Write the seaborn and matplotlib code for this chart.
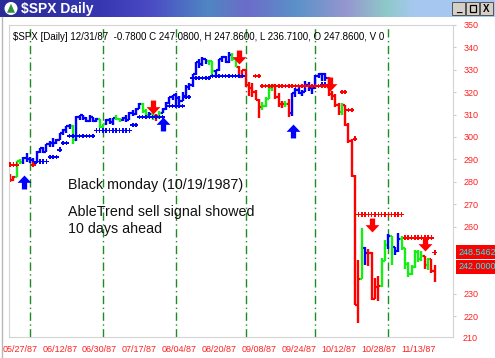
import numpy as np
import pandas as pd
import matplotlib
matplotlib.use('Agg')
import matplotlib.pyplot as plt
import matplotlib.patches as mpatches
from matplotlib.lines import Line2D
from matplotlib.path import Path
from matplotlib.colors import LinearSegmentedColormap
import seaborn as sns

# trading calendar of the chart
START, END = '1987-05-21', '1987-11-20'
HOLIDAYS = ['1987-05-25', '1987-07-03', '1987-09-07']

TICK_LABELS = ['05/27/87', '06/12/87', '06/30/87', '07/17/87', '08/04/87', '08/20/87',
               '09/08/87', '09/24/87', '10/12/87', '10/28/87', '11/13/87']
PRICE_TICKS = [220, 230, 260, 270, 280, 290, 300, 310, 320, 330, 340, 350]

# daily bars
OPENS = [283.0, 281.0, 282.2, 289.1, 288.7, 290.8, 290.1, 289.8, 288.5, 293.5,
         295.1, 293.5, 296.7, 297.3, 297.5, 298.8, 301.6, 303.1, 304.8, 304.8,
         298.5, 309.0, 309.6, 308.4, 307.0, 308.9, 307.2, 307.9, 304.5, 305.6,
         307.5, 306.8, 308.3, 308.0, 307.4, 308.4, 307.6, 310.7, 310.4, 312.7,
         314.6, 311.4, 309.8, 310.4, 309.3, 309.3, 310.7, 312.3, 315.1, 318.0,
         318.7, 317.6, 316.2, 318.5, 322.1, 323.0, 328.0, 333.3, 332.4, 334.7,
         333.9, 334.1, 329.3, 329.8, 334.8, 335.9, 333.3, 336.8, 334.6, 331.4,
         327.0, 329.8, 323.4, 321.7, 320.2, 316.7, 313.6, 313.9, 317.1, 321.9,
         323.1, 317.7, 314.9, 314.9, 314.9, 310.5, 319.5, 321.2, 319.7, 320.2,
         323.2, 321.7, 321.8, 327.3, 328.1, 328.1, 326.5, 319.2, 318.5, 314.2,
         311.1, 314.5, 305.2, 298.1, 282.7, 224.8, 236.8, 250.5, 248.3, 248.2,
         227.7, 233.2, 233.3, 244.8, 251.8, 255.8, 250.8, 249.0, 254.5, 250.4,
         243.2, 239.0, 241.9, 248.5, 245.6, 246.8, 243.0, 245.5, 240.0]
HIGHS = [283.5, 282.8, 289.2, 290.0, 291.0, 292.9, 291.2, 290.5, 293.6, 295.2,
         295.5, 297.0, 298.0, 299.5, 299.0, 302.0, 303.5, 304.9, 305.7, 305.2,
         309.5, 310.0, 310.0, 309.0, 309.6, 309.0, 308.5, 308.0, 305.8, 307.9,
         308.6, 308.7, 309.9, 308.5, 309.0, 310.0, 311.0, 312.0, 312.8, 315.0,
         315.0, 312.5, 311.0, 312.0, 310.3, 311.5, 313.0, 315.5, 318.0, 318.9,
         319.5, 318.5, 320.0, 323.0, 324.0, 328.0, 333.4, 334.6, 335.7, 335.0,
         334.5, 334.1, 330.0, 334.9, 336.0, 336.0, 337.9, 337.4, 334.7, 331.5,
         330.1, 330.0, 324.5, 324.0, 321.0, 317.0, 315.8, 318.0, 322.5, 323.2,
         323.1, 319.5, 316.0, 316.0, 317.0, 319.6, 321.8, 322.5, 321.0, 325.0,
         324.5, 322.5, 327.5, 328.6, 328.5, 328.6, 326.8, 320.5, 319.0, 315.0,
         315.2, 314.5, 306.3, 299.0, 283.1, 245.2, 259.5, 251.0, 250.0, 248.5,
         237.0, 238.0, 246.0, 254.1, 256.5, 256.0, 251.0, 257.3, 256.0, 250.5,
         244.0, 243.0, 249.7, 249.5, 249.0, 247.0, 246.0, 245.6, 243.0]
LOWS = [280.0, 280.2, 282.0, 287.8, 288.0, 289.0, 288.6, 287.6, 288.3, 292.8,
        293.0, 293.3, 295.7, 295.6, 297.0, 298.6, 301.0, 302.0, 303.5, 297.0,
        298.3, 307.5, 307.8, 306.5, 306.6, 306.8, 306.5, 304.0, 303.8, 305.4,
        306.0, 305.5, 307.5, 306.8, 307.0, 306.5, 307.4, 309.5, 310.0, 312.5,
        310.5, 308.6, 308.5, 307.6, 307.0, 308.0, 310.5, 312.0, 314.8, 316.5,
        314.5, 314.0, 316.0, 318.0, 321.0, 322.5, 327.8, 331.0, 331.5, 332.5,
        332.0, 327.0, 326.9, 329.5, 333.5, 333.0, 333.2, 334.0, 331.3, 327.0,
        326.5, 322.5, 318.5, 318.0, 316.5, 308.5, 312.0, 313.5, 317.0, 320.5,
        317.0, 313.5, 313.0, 313.5, 309.0, 309.5, 318.0, 319.0, 318.5, 320.0,
        320.5, 319.0, 321.5, 326.5, 325.0, 325.0, 318.5, 316.5, 313.5, 310.0,
        310.0, 304.8, 297.5, 282.0, 224.8, 217.0, 236.7, 243.0, 242.5, 227.4,
        227.5, 226.8, 233.0, 244.5, 250.0, 242.8, 247.5, 248.5, 249.5, 241.0,
        237.6, 238.5, 241.5, 244.0, 244.5, 241.0, 240.8, 239.4, 235.4]
CLOSES = [281.0, 282.2, 289.1, 288.7, 290.8, 290.1, 289.8, 288.5, 293.5, 295.1,
          293.5, 296.7, 297.3, 297.5, 298.8, 301.6, 303.1, 304.8, 304.8, 298.5,
          309.0, 309.6, 308.4, 307.0, 308.9, 307.2, 307.9, 304.5, 305.6, 307.5,
          306.8, 308.3, 308.0, 307.4, 308.4, 307.6, 310.7, 310.4, 312.7, 314.6,
          311.4, 309.8, 310.4, 309.3, 309.3, 310.7, 312.3, 315.1, 318.0, 318.7,
          317.6, 316.2, 318.5, 322.1, 323.0, 328.0, 333.3, 332.4, 334.7, 333.9,
          334.1, 329.3, 329.8, 334.8, 335.9, 333.3, 336.8, 334.6, 331.4, 327.0,
          329.8, 323.4, 321.7, 320.2, 316.7, 313.6, 313.9, 317.1, 321.9, 323.1,
          317.7, 314.9, 314.9, 314.9, 310.5, 319.5, 321.2, 319.7, 320.2, 323.2,
          321.7, 321.8, 327.3, 328.1, 328.1, 326.5, 319.2, 318.5, 314.2, 311.1,
          314.5, 305.2, 298.1, 282.7, 224.8, 236.8, 258.4, 248.3, 248.2, 227.7,
          233.2, 233.3, 244.8, 251.8, 255.8, 250.8, 249.0, 254.5, 250.4, 243.2,
          239.0, 241.9, 248.5, 245.6, 246.8, 243.0, 245.5, 240.0, 242.0]
# trend state of each bar: r = down, g = neutral, b = up
TREND = ('rrggbbbbbb' 'bbbbbbbbbg' 'bbbbbbbggb' 'bbggbbbbbb' 'ggbgrgbbbb'
         'bbbbbbbbbb' 'ggbbbbbggr' 'rrrrrrgggg' 'rrrgrbbbbb' 'bbbbbbrrrr'
         'grrrrrgbrr' 'rrggbgbbgg' 'gggggrgrr')

# stop levels: (first bar, last bar, level)
BLUE_STOPS = [(8, 11, 289.0), (12, 14, 291.0), (15, 15, 294.3), (16, 17, 297.4),
              (18, 25, 300.5), (26, 36, 303.0), (37, 38, 305.4), (39, 46, 309.0),
              (48, 52, 313.9), (53, 54, 317.9), (55, 60, 326.4), (61, 70, 327.3),
              (94, 95, 323.5)]
RED_STOPS = [(0, 2, 287.6), (7, 7, 287.6), (74, 75, 327.3), (76, 95, 322.8),
             (100, 101, 320.0), (102, 103, 312.0), (104, 104, 299.2),
             (105, 118, 265.3), (119, 127, 255.0), (128, 128, 248.5)]

# signal arrows (bar position, price at arrow centre)
UP_X = [4.2, 46.1, 85.2]
UP_Y = [280.0, 305.9, 302.6]
DOWN_X = [43.1, 69.0, 96.5, 109.0, 125.1]
DOWN_Y = [313.6, 335.8, 323.7, 260.5, 252.0]

LAST_STOP, LAST_CLOSE = 248.5462, 242.0000
HEADER = r'\$SPX [Daily] 12/31/87  -0.7800 C 247.0800, H 247.8600, L 236.7100, O 247.8600, V 0'

COL = {'r': '#ff0000', 'g': '#14ee14', 'b': '#0000ff'}

sns.set_style('white')
plt.rcParams['font.family'] = ['Liberation Sans', 'DejaVu Sans']

W, H = 495, 358
fig = plt.figure(figsize=(W / 100, H / 100), dpi=100)
fig.patch.set_facecolor('white')

# ---- window title bar
bar = fig.add_axes([0, 1 - 17 / H, 1, 17 / H])
cmap = LinearSegmentedColormap.from_list('tb', [
    (0.0, '#2a2a98'), (0.2, '#3636b0'), (0.3, '#4a4ac4'), (0.42, '#4f86c2'),
    (0.5, '#6c6cc8'), (0.6, '#5a92c8'), (0.7, '#9696d0'), (0.78, '#8ec8c8'),
    (0.84, '#a6c8f0'), (1.0, '#a8caf2')])
bar.imshow(np.linspace(0, 1, 256).reshape(1, -1), aspect='auto', cmap=cmap,
           extent=[0, 1, 0, 1])
bar.set_xlim(0, 1)
bar.set_ylim(0, 1)
bar.set_axis_off()
bar.add_patch(mpatches.Ellipse((11 / W, 0.5), 13 / W, 13 / 17, fc='white', ec='none'))
bar.add_patch(mpatches.Polygon([(7 / W, 0.25), (15 / W, 0.25), (11 / W, 0.78)],
                               fc='#2f8f3f', ec='none'))
bar.text(21 / W, 0.5, r'\$SPX Daily', color='white', fontweight='bold',
         fontsize=10, va='center', ha='left')
for k, glyph in enumerate(['_', '', 'X']):
    x0 = (452 + k * 14) / W
    bar.add_patch(mpatches.Rectangle((x0, 0.12), 13 / W, 0.76, fc='#d4d0c8',
                                     ec='#404040', lw=0.6))
    if glyph:
        bar.text(x0 + 6.5 / W, 0.45, glyph, fontsize=7, fontweight='bold',
                 ha='center', va='center', color='black')
    else:
        bar.add_patch(mpatches.Rectangle((x0 + 3.5 / W, 0.3), 6 / W, 0.42,
                                         fc='none', ec='black', lw=0.9))

fig.add_artist(Line2D([2 / W, 2 / W], [0, 1 - 17 / H], color='#b8b8b8', lw=1))

# ---- price axes
ax = fig.add_axes([9 / W, 1 - 337 / H, (453 - 9) / W, (337 - 25) / H])
dates = pd.bdate_range(START, END, freq='C', holidays=HOLIDAYS)
bars = pd.DataFrame({'date': dates, 'open': OPENS, 'high': HIGHS, 'low': LOWS,
                     'close': CLOSES, 'trend': list(TREND)})
bars['x'] = np.arange(len(bars))

# month start lines
month_start = bars.groupby(bars['date'].dt.month)['x'].min().values[1:]
for m in month_start:
    ax.axvline(m, color='#1e8c1e', lw=1.0, ls=(0, (6, 2.5, 1, 2.5)), zorder=1)

for t, grp in bars.groupby('trend'):
    c = COL[t]
    ax.vlines(grp['x'], grp['low'], grp['high'], color=c, lw=1.7, zorder=2)
    ax.hlines(grp['open'], grp['x'] - 0.5, grp['x'], color=c, lw=1.6, zorder=2)
    ax.hlines(grp['close'], grp['x'], grp['x'] + 0.5, color=c, lw=1.6, zorder=2)

rows = []
for kind, segs in (('blue', BLUE_STOPS), ('red', RED_STOPS)):
    for a, b, lvl in segs:
        for i in range(a, b + 1):
            rows.append({'x': i, 'y': lvl, 'kind': kind})
stops = pd.DataFrame(rows)
sns.scatterplot(data=stops, x='x', y='y', hue='kind', marker='P', s=11,
                linewidth=0, palette={'blue': '#0000ff', 'red': '#ff0000'},
                legend=False, ax=ax, zorder=3)

down_path = Path([(-0.38, 1.0), (0.38, 1.0), (0.38, 0.05), (1.0, 0.05), (0.0, -1.0),
                  (-1.0, 0.05), (-0.38, 0.05), (-0.38, 1.0)], closed=True)
up_path = Path([(x, -y) for x, y in down_path.vertices], closed=True)
ax.scatter(DOWN_X, DOWN_Y, marker=down_path, s=100, color='#ff0000', lw=0, zorder=4)
ax.scatter(UP_X, UP_Y, marker=up_path, s=100, color='#0000ff', lw=0, zorder=4)

ax.set_xlim(-0.3, 133.5)
ax.set_ylim(210.7, 350.0)

tick_x = dates.get_indexer(pd.to_datetime(TICK_LABELS, format='%m/%d/%y'))
ax.set_xticks(tick_x)
ax.set_xticklabels(TICK_LABELS)
ax.yaxis.tick_right()
ax.set_yticks(PRICE_TICKS)
ax.set_yticklabels([str(v) for v in PRICE_TICKS])
ax.tick_params(axis='x', length=3, pad=2.5, labelsize=6.5, colors='#cccccc',
               labelcolor='#ff2020')
ax.tick_params(axis='y', length=2.5, pad=5, labelsize=6.5, colors='#cccccc',
               labelcolor='#ff2020', left=False, right=True)
for lab in ax.get_yticklabels():
    lab.set_horizontalalignment('left')
ax.text(1.021, 210, '210', transform=ax.get_yaxis_transform(), color='#ff2020',
        fontsize=6.5, va='center', ha='left', clip_on=False)
for v, lbl in ((LAST_STOP, '248.5462'), (LAST_CLOSE, '242.0000')):
    ax.text(1.013, v, lbl, transform=ax.get_yaxis_transform(), color='#00ffff',
            fontsize=6.5, va='center', ha='left', clip_on=False,
            bbox=dict(boxstyle='square,pad=0.3', fc='#ff0000', ec='none'))
ax.set_xlabel('')
ax.set_ylabel('')
for s in ax.spines.values():
    s.set_color('#d4d4d4')
    s.set_linewidth(0.8)

fig.text(13 / W, 1 - 37 / H, HEADER, fontsize=7, va='center', ha='left', color='black')
fig.text(68 / W, 1 - 185 / H, 'Black monday (10/19/1987)', fontsize=10.3,
         va='center', ha='left', color='#111111')
fig.text(68 / W, 1 - 212 / H, 'AbleTrend sell signal showed', fontsize=10.3,
         va='center', ha='left', color='#111111')
fig.text(68 / W, 1 - 229 / H, '10 days ahead', fontsize=10.3,
         va='center', ha='left', color='#111111')

fig.savefig('out.png', dpi=100)
